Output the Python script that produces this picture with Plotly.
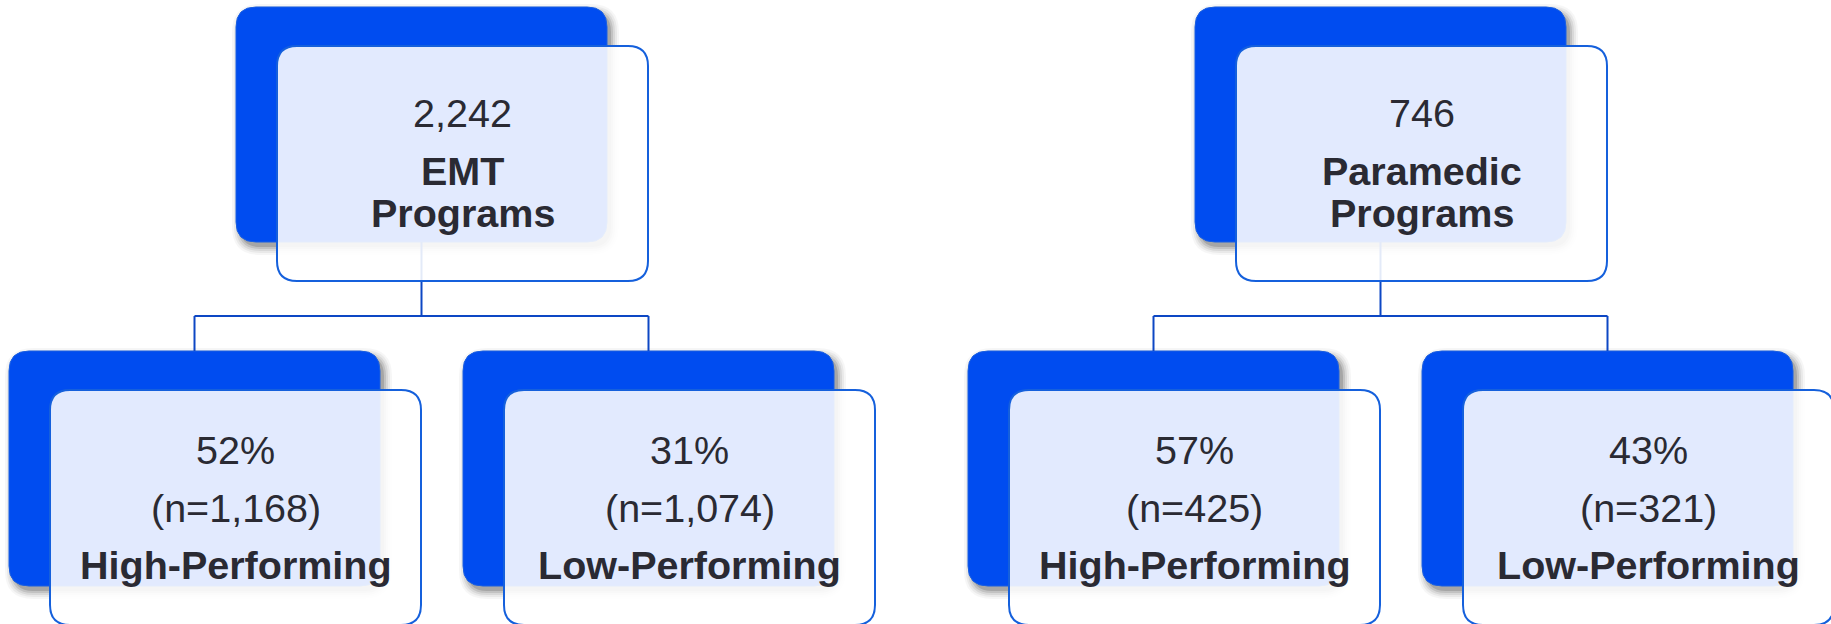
import plotly.graph_objects as go

# ---------------- data ----------------
group_totals = ["2,242", "746"]
group_names = ["EMT", "Paramedic"]
group_suffix = ["Programs", "Programs"]
child_labels = ["High-Performing", "Low-Performing"]
child_pcts = [[52, 31], [57, 43]]
child_ns = [[1168, 1074], [425, 321]]

# ---------------- layout constants ----------------
W, H = 1831, 624
BOX_W, BOX_H, R = 371, 235, 20
CARD_DX, CARD_DY = 41, 39
GROUP_X = [0, 959]
TOP_BLUE = (236, 7)
CHILD_BLUE = [(9, 351), (463, 351)]
BUS_Y = 316

BLUE = "#004CF0"
CARD_FILL = "rgba(255,255,255,0.885)"
CARD_LINE = "#1560DC"
CONN = "#0D47C4"
TEXT = "#2a2a33"
FONT = "Liberation Sans, Arial, sans-serif"
FS = 39.5


def rrect(x0, y0, x1, y1, r):
    return (f"M {x0+r},{y0} L {x1-r},{y0} Q {x1},{y0} {x1},{y0+r} "
            f"L {x1},{y1-r} Q {x1},{y1} {x1-r},{y1} L {x0+r},{y1} "
            f"Q {x0},{y1} {x0},{y1-r} L {x0},{y0+r} Q {x0},{y0} {x0+r},{y0} Z")


shapes_shadow, shapes_blue, shapes_conn, shapes_card = [], [], [], []
annotations = []


def add_box(bx, by):
    # soft drop shadow
    for e, a in [(8, 0.035), (6, 0.05), (4, 0.07), (2, 0.1), (0, 0.14)]:
        shapes_shadow.append(dict(type="path", xref="x", yref="y",
                                  path=rrect(bx + 4 - e, by + 5 - e, bx + BOX_W + 4 + e, by + BOX_H + 5 + e, R + e),
                                  fillcolor=f"rgba(0,0,0,{a})", line=dict(width=0)))
    shapes_blue.append(dict(type="path", xref="x", yref="y",
                            path=rrect(bx, by, bx + BOX_W, by + BOX_H, R),
                            fillcolor=BLUE, line=dict(color="#1a5fe0", width=1)))
    cx0, cy0 = bx + CARD_DX, by + CARD_DY
    shapes_card.append(dict(type="path", xref="x", yref="y",
                            path=rrect(cx0, cy0, cx0 + BOX_W, cy0 + BOX_H, R),
                            fillcolor=CARD_FILL, line=dict(color=CARD_LINE, width=2)))
    return cx0 + BOX_W / 2, cy0


def text(x, y, s, bold=False):
    annotations.append(dict(x=x, y=y, xref="x", yref="y", showarrow=False,
                            text=f"<b>{s}</b>" if bold else s,
                            xanchor="center", yanchor="middle",
                            font=dict(family=FONT, size=FS, color=TEXT)))


for g, gx in enumerate(GROUP_X):
    # parent
    tbx, tby = gx + TOP_BLUE[0], TOP_BLUE[1]
    pcx = tbx + BOX_W / 2
    ccx, ccy = add_box(tbx, tby)
    text(ccx, ccy + 67, group_totals[g])
    text(ccx, ccy + 125, group_names[g], bold=True)
    text(ccx, ccy + 166.5, group_suffix[g], bold=True)

    # connectors
    child_centers = [gx + cb[0] + BOX_W / 2 for cb in CHILD_BLUE]
    shapes_conn.append(dict(type="line", xref="x", yref="y", x0=pcx, x1=pcx,
                            y0=tby + BOX_H, y1=BUS_Y, line=dict(color=CONN, width=2)))
    shapes_conn.append(dict(type="line", xref="x", yref="y", x0=child_centers[0], x1=child_centers[1],
                            y0=BUS_Y, y1=BUS_Y, line=dict(color=CONN, width=2)))
    for k, cb in enumerate(CHILD_BLUE):
        shapes_conn.append(dict(type="line", xref="x", yref="y", x0=child_centers[k], x1=child_centers[k],
                                y0=BUS_Y, y1=cb[1], line=dict(color=CONN, width=2)))

    # children
    for k, cb in enumerate(CHILD_BLUE):
        ccx, ccy = add_box(gx + cb[0], cb[1])
        text(ccx, ccy + 60, f"{child_pcts[g][k]}%")
        text(ccx, ccy + 117.5, f"(n={child_ns[g][k]:,})")
        text(ccx, ccy + 174.5, child_labels[k], bold=True)

fig = go.Figure()
fig.add_trace(go.Scatter(x=[0, W], y=[0, H], mode="markers", marker=dict(opacity=0),
                         hoverinfo="skip", showlegend=False))
fig.update_layout(
    width=W, height=H, margin=dict(l=0, r=0, t=0, b=0),
    paper_bgcolor="white", plot_bgcolor="white",
    xaxis=dict(range=[0, W], visible=False, fixedrange=True),
    yaxis=dict(range=[H, 0], visible=False, fixedrange=True),
    shapes=shapes_shadow + shapes_blue + shapes_conn + shapes_card,
    annotations=annotations,
    showlegend=False,
)
fig.write_html("out.html", config={"displayModeBar": False},
               post_script="document.body.style.margin='0';document.body.style.overflow='hidden';")
